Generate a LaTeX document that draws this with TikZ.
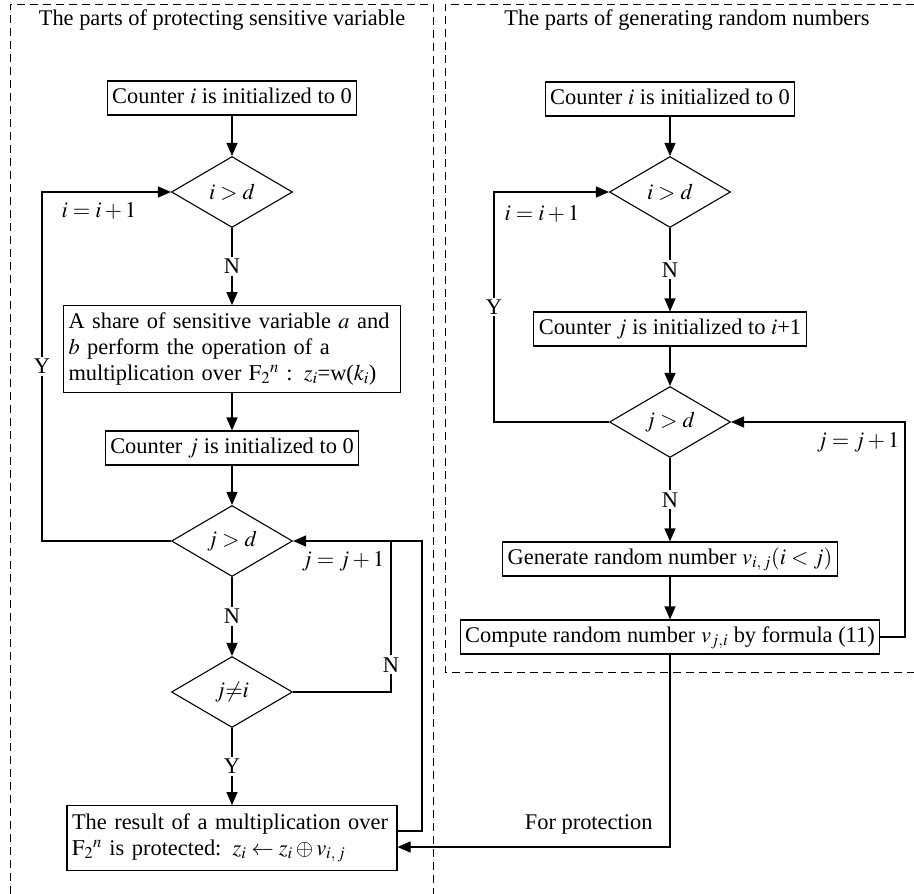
\documentclass[tikz,border=0pt]{standalone}
\usepackage{mathptmx}
\usepackage{fontspec}
\setmainfont{Liberation Serif}
\usetikzlibrary{arrows.meta,shapes.geometric,positioning}

\begin{document}
\begin{tikzpicture}[->,>={Triangle[length=13pt,width=11pt]},x=1pt,y=-1pt,
  line width=1.1pt,node distance=94pt,
  font=\fontsize{22.4}{26}\selectfont,
  block/.style={draw,rectangle,inner xsep=5pt,inner ysep=7pt,text height=15pt,text depth=5pt},
  wide/.style={draw,rectangle,inner xsep=5pt,inner ysep=7pt,align=left},
  decision/.style={draw,diamond,aspect=1.7,inner sep=1pt,minimum width=121pt,minimum height=71pt},
  lbl/.style={fill=white,inner sep=2pt},
  frame/.style={-,line width=0.9pt,dash pattern=on 8pt off 5pt}]

\useasboundingbox (0,0) rectangle (914,894);

% dashed frames and titles
\draw[frame] (10,894) -- (10,4) -- (433,4) -- (433,894);
\draw[frame] (914,4) -- (445,4) -- (445,672) -- (914,672);
\node (T1) at (222,20) {The parts of protecting sensitive variable};
\node (T2) at (687,20) {The parts of generating random numbers};

% protecting part
\node[block] (Ci) at (232,98) {Counter $i$ is initialized to 0};
\node[decision] (D1) [below of=Ci] {$i>d$};
\node[wide,text width=327pt] (Mul) [below of=D1,node distance=157pt]
  {\makebox[\hsize][s]{A share of sensitive variable $a$ and}\\
   \makebox[\hsize][s]{$b$ perform the operation of a}\\
   multiplication over $\mathrm{F}_2{}^n$ : $z_i$=w($k_i$)};
\node[block] (Cj) [below of=Mul,node distance=99pt] {Counter $j$ is initialized to 0};
\node[decision] (D2) [below of=Cj,node distance=93pt] {$j>d$};
\node[decision] (D3) [below of=D2,node distance=151pt] {$j{\neq}i$};
\node[wide,text width=320pt,inner ysep=8pt] (Res) [below of=D3,node distance=146pt]
  {\makebox[\hsize][s]{The result of a multiplication over}\\
   $\mathrm{F}_2{}^n$ is protected: $z_i\leftarrow z_i\oplus v_{i,\,j}$};

% generating part
\node[block] (Ci2) at (670,99) {Counter $i$ is initialized to 0};
\node[decision] (D4) [below of=Ci2,node distance=93pt] {$i>d$};
\node[block] (Cj2) [below of=D4,node distance=137pt] {Counter $j$ is initialized to $i$+1};
\node[decision] (D5) [below of=Cj2,node distance=93pt] {$j>d$};
\node[block] (Gen) [below of=D5,node distance=137pt] {Generate random number $v_{i,\,j}(i<j)$};
\node[block] (Comp) [below of=Gen,node distance=78pt] {Compute random number $v_{j,i}$ by formula (11)};

\path (Ci) edge (D1)
  (D1) edge node[lbl] {N} (Mul)
  (Mul) edge (Cj)
  (Cj) edge (D2)
  (D2) edge node[lbl] {N} (D3)
  (D3) edge node[lbl] {Y} (Res)
  (Ci2) edge (D4)
  (D4) edge node[lbl] {N} (Cj2)
  (Cj2) edge (D5)
  (D5) edge node[lbl] {N} (Gen)
  (Gen) edge (Comp);

% loops
\coordinate (YL) at (42,541);
\coordinate (JC) at (422,541);
\coordinate (NC) at (391,541);
\draw (D2.west) -- (YL) |- node[lbl,pos=0.25] {Y} (D1.west);
\draw ([yshift=7pt]Res.east) -| (JC) -- (D2.east);
\draw[-] (D3.east) -| node[lbl,pos=0.59] {N} (NC);
\node (JI) at (343,561) {$j=j+1$};
\node (II) at (99,211) {$i=i+1$};

\coordinate (YR) at (494,422);
\coordinate (JR) at (905,422);
\draw (D5.west) -- (YR) |- node[lbl,pos=0.25] {Y} (D4.west);
\draw (Comp.east) -| (JR) -- (D5.east);
\node (JI2) at (858,442) {$j=j+1$};
\node (II2) at (542,214) {$i=i+1$};

\draw (Comp.south) |- ([yshift=-9pt]Res.east);
\node[anchor=east,inner sep=2pt] (FP) at (655,824) {For protection};
\end{tikzpicture}
\end{document}
